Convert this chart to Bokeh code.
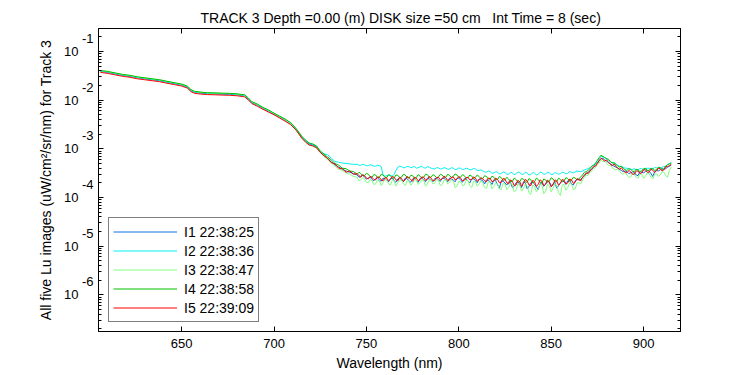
from bokeh.plotting import figure
from bokeh.models import (FixedTicker, LinearAxis, LogAxis, Legend,
                          LegendItem, CustomJSTickFormatter)
from bokeh.embed import file_html
from bokeh.resources import INLINE

# ---------------- data ----------------
wavelength = [606, 610, 614, 618, 622, 626, 630, 634, 638, 642, 646, 650,
              653, 655, 657, 660, 664, 668, 672, 676, 680, 684, 686, 688,
              691, 694, 697, 700, 703, 706, 709, 712, 715, 717, 719, 721, 723,
              725, 727, 729, 731, 733, 735, 737, 739, 741, 743,
              745, 746, 747, 748, 749, 750, 751, 752, 753, 754,
              755, 756, 757, 758, 759, 760, 761, 762, 763, 764,
              765, 766, 767, 768, 769, 770, 771, 772, 773, 774,
              775, 776, 777, 778, 779, 780, 781, 782, 783, 784,
              785, 786, 787, 788, 789, 790, 791, 792, 793, 794,
              795, 796, 797, 798, 799, 800, 801, 802, 803, 804,
              805, 806, 807, 808, 809, 810, 811, 812, 813, 814,
              815, 816, 817, 818, 819, 820, 821, 822, 823, 824,
              825, 826, 827, 828, 829, 830, 831, 832, 833, 834,
              835, 836, 837, 838, 839, 840, 841, 842, 843, 844,
              845, 846, 847, 848, 849, 850, 851, 852, 853, 854,
              855, 856, 857, 858, 859, 860, 861, 862, 863, 864,
              865, 866, 867, 868, 869, 870, 871, 872, 873, 874,
              875, 876, 877, 878, 879, 880, 881, 882, 883, 884,
              885, 886, 887, 888, 889, 890, 891, 892, 893, 894,
              895, 896, 897, 898, 899, 900, 901, 902, 903, 904,
              905, 906, 907, 908, 909, 910, 911, 912, 913, 914, 915]

i1 = [3.89e-2, 3.72e-2, 3.47e-2, 3.24e-2, 3.09e-2, 2.88e-2, 2.75e-2, 2.63e-2, 2.51e-2, 2.34e-2, 2.19e-2, 2.04e-2,
      1.86e-2, 1.58e-2, 1.45e-2, 1.40e-2, 1.36e-2, 1.35e-2, 1.33e-2, 1.32e-2, 1.29e-2, 1.23e-2, 1.07e-2, 8.9e-3,
      7.9e-3, 6.8e-3, 6.0e-3, 5.2e-3, 4.5e-3, 3.9e-3, 3.3e-3, 2.5e-3, 1.74e-3, 1.45e-3, 1.26e-3, 1.20e-3, 1.10e-3,
      8.6e-4, 7.3e-4, 6.3e-4, 5.4e-4, 4.7e-4, 4.2e-4, 3.8e-4, 3.5e-4, 3.3e-4, 3.1e-4,
      2.9e-4, 2.6e-4, 2.75e-4, 2.9e-4, 2.6e-4, 2.4e-4, 2.5e-4, 2.65e-4, 2.35e-4, 2.2e-4,
      2.45e-4, 2.55e-4, 2.3e-4, 2.15e-4, 2.5e-4, 2.4e-4, 2.3e-4, 2.1e-4, 2.45e-4, 2.5e-4,
      2.2e-4, 2.05e-4, 2.4e-4, 2.5e-4, 2.3e-4, 2.1e-4, 2.5e-4, 2.45e-4, 2.2e-4, 2.05e-4,
      2.4e-4, 2.45e-4, 2.25e-4, 2.05e-4, 2.45e-4, 2.5e-4, 2.3e-4, 2.1e-4, 2.5e-4, 2.4e-4,
      2.3e-4, 2.1e-4, 2.45e-4, 2.5e-4, 2.3e-4, 2.15e-4, 2.5e-4, 2.45e-4, 2.35e-4, 2.1e-4,
      2.5e-4, 2.4e-4, 2.3e-4, 2.1e-4, 2.45e-4, 2.5e-4, 2.3e-4, 2.05e-4, 2.45e-4, 2.35e-4,
      2.2e-4, 2.0e-4, 2.4e-4, 2.4e-4, 2.25e-4, 2.0e-4, 2.4e-4, 2.3e-4, 2.2e-4, 1.9e-4,
      2.3e-4, 2.25e-4, 2.1e-4, 1.85e-4, 2.3e-4, 2.2e-4, 1.8e-4, 1.55e-4, 2.2e-4, 2.15e-4,
      2.0e-4, 1.8e-4, 2.1e-4, 2.05e-4, 1.6e-4, 1.7e-4, 2.0e-4, 2.1e-4, 1.85e-4, 1.6e-4,
      2.1e-4, 2.0e-4, 1.5e-4, 1.7e-4, 2.0e-4, 2.05e-4, 1.9e-4, 1.65e-4, 1.45e-4, 1.9e-4,
      2.0e-4, 1.7e-4, 1.85e-4, 2.15e-4, 2.1e-4, 1.75e-4, 1.9e-4, 2.05e-4, 1.55e-4, 1.75e-4,
      2.0e-4, 2.2e-4, 2.1e-4, 1.85e-4, 2.2e-4, 2.25e-4, 1.9e-4, 1.8e-4, 2.2e-4, 2.35e-4,
      2.3e-4, 2.35e-4, 2.6e-4, 2.75e-4, 3.1e-4, 3.3e-4, 3.6e-4, 3.8e-4, 4.2e-4, 4.7e-4,
      5.1e-4, 5.6e-4, 6.3e-4, 6.4e-4, 5.9e-4, 5.6e-4, 5.2e-4, 5.0e-4, 4.6e-4, 4.4e-4,
      4.2e-4, 4.0e-4, 3.8e-4, 3.6e-4, 3.4e-4, 3.5e-4, 3.4e-4, 3.1e-4, 3.2e-4, 3.35e-4,
      3.3e-4, 2.9e-4, 2.8e-4, 3.4e-4, 3.3e-4, 3.2e-4, 3.4e-4, 3.6e-4, 3.5e-4, 3.1e-4,
      2.7e-4, 3.4e-4, 3.6e-4, 3.5e-4, 3.7e-4, 3.9e-4, 3.8e-4, 3.9e-4, 4.2e-4, 4.4e-4, 4.6e-4]

i2 = [3.98e-2, 3.81e-2, 3.55e-2, 3.31e-2, 3.16e-2, 2.95e-2, 2.81e-2, 2.69e-2, 2.57e-2, 2.39e-2, 2.24e-2, 2.09e-2,
      1.90e-2, 1.62e-2, 1.48e-2, 1.43e-2, 1.39e-2, 1.38e-2, 1.36e-2, 1.35e-2, 1.32e-2, 1.26e-2, 1.09e-2, 9.1e-3,
      8.1e-3, 7.0e-3, 6.1e-3, 5.3e-3, 4.6e-3, 4.0e-3, 3.4e-3, 2.55e-3, 1.78e-3, 1.48e-3, 1.29e-3, 1.23e-3, 1.13e-3,
      8.9e-4, 7.9e-4, 7.6e-4, 6.4e-4, 5.5e-4, 5.3e-4, 5.1e-4, 5.0e-4, 4.9e-4, 4.8e-4,
      4.8e-4, 4.6e-4, 4.6e-4, 4.8e-4, 4.7e-4, 4.5e-4, 4.5e-4, 4.7e-4, 4.6e-4, 4.4e-4,
      4.4e-4, 4.6e-4, 4.5e-4, 4.3e-4, 2.9e-4, 2.75e-4, 2.8e-4, 2.9e-4, 2.85e-4, 2.75e-4,
      3.0e-4, 3.6e-4, 4.2e-4, 4.4e-4, 4.3e-4, 4.1e-4, 4.1e-4, 4.35e-4, 4.3e-4, 4.1e-4,
      4.2e-4, 4.35e-4, 4.0e-4, 4.1e-4, 4.25e-4, 4.4e-4, 4.1e-4, 4.0e-4, 4.3e-4, 4.2e-4,
      4.0e-4, 3.9e-4, 3.85e-4, 4.1e-4, 4.05e-4, 3.85e-4, 3.9e-4, 4.1e-4, 4.0e-4, 3.8e-4,
      3.85e-4, 4.1e-4, 4.0e-4, 3.75e-4, 3.8e-4, 4.05e-4, 3.95e-4, 3.75e-4, 3.8e-4, 4.0e-4,
      3.9e-4, 3.7e-4, 3.75e-4, 3.95e-4, 3.85e-4, 3.6e-4, 3.6e-4, 3.7e-4, 3.5e-4, 3.35e-4,
      3.3e-4, 3.5e-4, 3.4e-4, 3.15e-4, 3.2e-4, 3.4e-4, 3.3e-4, 3.05e-4, 3.1e-4, 3.35e-4,
      3.25e-4, 3.0e-4, 3.0e-4, 3.3e-4, 3.2e-4, 2.95e-4, 3.05e-4, 3.35e-4, 3.25e-4, 3.0e-4,
      3.0e-4, 3.3e-4, 3.2e-4, 2.9e-4, 2.95e-4, 3.25e-4, 3.15e-4, 2.9e-4, 3.0e-4, 3.3e-4,
      3.25e-4, 3.0e-4, 3.05e-4, 3.3e-4, 3.2e-4, 2.95e-4, 3.0e-4, 3.25e-4, 3.15e-4, 3.0e-4,
      3.1e-4, 3.3e-4, 3.25e-4, 3.05e-4, 3.15e-4, 3.4e-4, 3.3e-4, 3.2e-4, 3.35e-4, 3.5e-4,
      3.45e-4, 3.4e-4, 3.5e-4, 3.7e-4, 3.8e-4, 3.9e-4, 4.1e-4, 4.4e-4, 4.7e-4, 5.1e-4,
      5.6e-4, 6.3e-4, 7.0e-4, 6.9e-4, 6.6e-4, 6.1e-4, 5.8e-4, 5.5e-4, 5.2e-4, 5.1e-4,
      4.9e-4, 4.6e-4, 4.4e-4, 4.3e-4, 4.2e-4, 4.0e-4, 4.0e-4, 3.9e-4, 3.8e-4, 3.75e-4,
      3.9e-4, 3.7e-4, 3.7e-4, 3.9e-4, 3.9e-4, 3.75e-4, 3.8e-4, 4.0e-4, 4.0e-4, 3.8e-4,
      3.9e-4, 4.1e-4, 4.1e-4, 3.9e-4, 4.0e-4, 4.2e-4, 4.3e-4, 4.4e-4, 4.8e-4, 5.0e-4, 5.2e-4]

i3 = [4.03e-2, 3.85e-2, 3.59e-2, 3.35e-2, 3.20e-2, 2.98e-2, 2.85e-2, 2.72e-2, 2.60e-2, 2.42e-2, 2.27e-2, 2.11e-2,
      1.93e-2, 1.64e-2, 1.50e-2, 1.45e-2, 1.41e-2, 1.40e-2, 1.38e-2, 1.37e-2, 1.33e-2, 1.27e-2, 1.11e-2, 9.2e-3,
      8.2e-3, 7.0e-3, 6.2e-3, 5.3e-3, 4.6e-3, 4.0e-3, 3.3e-3, 2.4e-3, 1.65e-3, 1.38e-3, 1.18e-3, 1.13e-3, 1.04e-3,
      8.4e-4, 7.0e-4, 6.0e-4, 5.1e-4, 4.4e-4, 3.8e-4, 3.6e-4, 3.2e-4, 3.0e-4, 2.7e-4,
      2.6e-4, 2.2e-4, 2.3e-4, 2.55e-4, 2.4e-4, 2.05e-4, 2.0e-4, 2.35e-4, 2.2e-4, 1.85e-4,
      1.9e-4, 2.3e-4, 2.2e-4, 1.75e-4, 2.0e-4, 2.35e-4, 2.3e-4, 1.9e-4, 1.8e-4, 2.25e-4,
      2.2e-4, 1.7e-4, 2.0e-4, 2.3e-4, 2.3e-4, 1.9e-4, 1.75e-4, 2.2e-4, 2.2e-4, 1.8e-4,
      1.95e-4, 2.35e-4, 2.3e-4, 1.85e-4, 2.0e-4, 2.3e-4, 2.25e-4, 1.7e-4, 1.9e-4, 2.3e-4,
      2.3e-4, 1.9e-4, 2.0e-4, 2.35e-4, 2.25e-4, 1.75e-4, 1.85e-4, 2.25e-4, 2.3e-4, 1.9e-4,
      2.05e-4, 2.3e-4, 2.2e-4, 1.6e-4, 1.7e-4, 2.15e-4, 2.1e-4, 1.75e-4, 1.8e-4, 2.25e-4,
      2.2e-4, 1.75e-4, 1.6e-4, 2.15e-4, 2.1e-4, 1.7e-4, 1.9e-4, 2.2e-4, 2.0e-4, 1.6e-4,
      1.55e-4, 2.1e-4, 2.05e-4, 1.5e-4, 1.7e-4, 2.0e-4, 1.9e-4, 1.5e-4, 1.45e-4, 1.95e-4,
      1.9e-4, 1.45e-4, 1.6e-4, 1.95e-4, 1.85e-4, 1.3e-4, 1.4e-4, 1.9e-4, 1.8e-4, 1.35e-4,
      1.55e-4, 1.9e-4, 1.75e-4, 1.25e-4, 1.15e-4, 1.8e-4, 1.7e-4, 1.3e-4, 1.5e-4, 1.9e-4,
      1.8e-4, 1.2e-4, 1.35e-4, 1.85e-4, 1.75e-4, 1.3e-4, 1.55e-4, 1.9e-4, 1.8e-4, 1.25e-4,
      1.1e-4, 1.8e-4, 1.85e-4, 1.4e-4, 1.6e-4, 2.0e-4, 1.9e-4, 1.45e-4, 1.5e-4, 2.0e-4,
      2.0e-4, 1.9e-4, 2.3e-4, 2.6e-4, 2.9e-4, 2.8e-4, 3.3e-4, 3.5e-4, 3.9e-4, 4.1e-4,
      4.8e-4, 5.1e-4, 6.0e-4, 5.4e-4, 5.6e-4, 5.0e-4, 4.6e-4, 4.5e-4, 4.2e-4, 3.8e-4,
      3.7e-4, 3.9e-4, 3.5e-4, 3.1e-4, 3.0e-4, 3.3e-4, 2.9e-4, 2.6e-4, 2.6e-4, 3.1e-4,
      3.0e-4, 2.6e-4, 2.5e-4, 3.0e-4, 3.0e-4, 2.5e-4, 2.7e-4, 3.2e-4, 3.1e-4, 2.6e-4,
      2.4e-4, 3.0e-4, 3.1e-4, 2.7e-4, 2.9e-4, 3.4e-4, 3.3e-4, 2.8e-4, 2.6e-4, 3.6e-4, 4.2e-4]

i4 = [4.07e-2, 3.90e-2, 3.63e-2, 3.39e-2, 3.24e-2, 3.02e-2, 2.88e-2, 2.75e-2, 2.63e-2, 2.45e-2, 2.29e-2, 2.14e-2,
      1.95e-2, 1.66e-2, 1.52e-2, 1.47e-2, 1.42e-2, 1.41e-2, 1.39e-2, 1.38e-2, 1.35e-2, 1.29e-2, 1.12e-2, 9.3e-3,
      8.3e-3, 7.1e-3, 6.3e-3, 5.4e-3, 4.7e-3, 4.1e-3, 3.45e-3, 2.6e-3, 1.82e-3, 1.52e-3, 1.32e-3, 1.26e-3, 1.15e-3,
      9.0e-4, 7.8e-4, 6.8e-4, 5.9e-4, 5.0e-4, 4.6e-4, 4.0e-4, 3.9e-4, 3.5e-4, 3.4e-4,
      3.0e-4, 3.3e-4, 3.1e-4, 2.8e-4, 2.8e-4, 3.15e-4, 3.0e-4, 2.7e-4, 2.6e-4, 2.95e-4,
      2.9e-4, 2.55e-4, 2.6e-4, 3.0e-4, 2.9e-4, 2.6e-4, 2.55e-4, 2.95e-4, 2.8e-4, 2.5e-4,
      2.5e-4, 2.9e-4, 2.85e-4, 2.55e-4, 2.6e-4, 3.0e-4, 2.9e-4, 2.6e-4, 2.5e-4, 2.85e-4,
      2.8e-4, 2.5e-4, 2.55e-4, 2.95e-4, 2.75e-4, 2.5e-4, 2.6e-4, 3.0e-4, 2.95e-4, 2.6e-4,
      2.6e-4, 2.95e-4, 2.8e-4, 2.55e-4, 2.65e-4, 3.0e-4, 2.9e-4, 2.6e-4, 2.6e-4, 3.0e-4,
      2.85e-4, 2.55e-4, 2.7e-4, 3.05e-4, 2.9e-4, 2.6e-4, 2.6e-4, 2.95e-4, 2.8e-4, 2.5e-4,
      2.55e-4, 2.9e-4, 2.75e-4, 2.45e-4, 2.6e-4, 2.9e-4, 2.7e-4, 2.45e-4, 2.45e-4, 2.8e-4,
      2.7e-4, 2.4e-4, 2.4e-4, 2.75e-4, 2.6e-4, 2.3e-4, 2.35e-4, 2.7e-4, 2.55e-4, 2.25e-4,
      2.3e-4, 2.6e-4, 2.4e-4, 2.1e-4, 2.15e-4, 2.5e-4, 2.35e-4, 2.05e-4, 2.1e-4, 2.45e-4,
      2.4e-4, 2.1e-4, 2.05e-4, 2.45e-4, 2.3e-4, 2.0e-4, 2.1e-4, 2.5e-4, 2.35e-4, 2.05e-4,
      2.0e-4, 2.4e-4, 2.3e-4, 2.05e-4, 2.15e-4, 2.55e-4, 2.4e-4, 2.1e-4, 2.1e-4, 2.5e-4,
      2.35e-4, 2.1e-4, 2.2e-4, 2.55e-4, 2.45e-4, 2.15e-4, 2.3e-4, 2.6e-4, 2.5e-4, 2.3e-4,
      2.4e-4, 2.65e-4, 2.9e-4, 3.3e-4, 3.4e-4, 3.6e-4, 3.9e-4, 4.4e-4, 4.6e-4, 5.0e-4,
      5.8e-4, 6.6e-4, 7.4e-4, 7.0e-4, 6.6e-4, 6.3e-4, 6.1e-4, 5.5e-4, 5.1e-4, 5.2e-4,
      4.8e-4, 4.4e-4, 4.2e-4, 4.4e-4, 4.0e-4, 3.7e-4, 3.6e-4, 3.9e-4, 3.8e-4, 3.5e-4,
      3.4e-4, 3.8e-4, 3.7e-4, 3.4e-4, 3.5e-4, 3.9e-4, 4.0e-4, 3.6e-4, 3.6e-4, 4.0e-4,
      3.9e-4, 3.6e-4, 3.7e-4, 4.2e-4, 4.1e-4, 3.8e-4, 3.8e-4, 4.4e-4, 4.7e-4, 4.9e-4, 5.0e-4]

i5 = [3.72e-2, 3.55e-2, 3.31e-2, 3.09e-2, 2.95e-2, 2.75e-2, 2.63e-2, 2.51e-2, 2.40e-2, 2.23e-2, 2.09e-2, 1.95e-2,
      1.78e-2, 1.50e-2, 1.38e-2, 1.34e-2, 1.30e-2, 1.29e-2, 1.27e-2, 1.26e-2, 1.23e-2, 1.17e-2, 1.02e-2, 8.5e-3,
      7.5e-3, 6.5e-3, 5.7e-3, 5.0e-3, 4.3e-3, 3.7e-3, 3.15e-3, 2.4e-3, 1.66e-3, 1.38e-3, 1.20e-3, 1.15e-3, 1.05e-3,
      8.5e-4, 7.2e-4, 6.4e-4, 5.2e-4, 4.9e-4, 4.0e-4, 3.9e-4, 3.3e-4, 3.5e-4, 3.0e-4,
      3.1e-4, 2.8e-4, 2.6e-4, 2.95e-4, 2.8e-4, 2.5e-4, 2.4e-4, 2.7e-4, 2.6e-4, 2.35e-4,
      2.3e-4, 2.65e-4, 2.6e-4, 2.3e-4, 2.2e-4, 2.55e-4, 2.5e-4, 2.2e-4, 2.35e-4, 2.7e-4,
      2.6e-4, 2.3e-4, 2.2e-4, 2.6e-4, 2.45e-4, 2.15e-4, 2.3e-4, 2.7e-4, 2.55e-4, 2.35e-4,
      2.15e-4, 2.6e-4, 2.5e-4, 2.2e-4, 2.3e-4, 2.65e-4, 2.6e-4, 2.25e-4, 2.35e-4, 2.7e-4,
      2.5e-4, 2.2e-4, 2.25e-4, 2.55e-4, 2.6e-4, 2.3e-4, 2.4e-4, 2.75e-4, 2.55e-4, 2.25e-4,
      2.3e-4, 2.6e-4, 2.65e-4, 2.3e-4, 2.4e-4, 2.7e-4, 2.5e-4, 2.2e-4, 2.25e-4, 2.55e-4,
      2.6e-4, 2.3e-4, 2.35e-4, 2.65e-4, 2.5e-4, 2.15e-4, 2.3e-4, 2.55e-4, 2.4e-4, 2.2e-4,
      2.1e-4, 2.5e-4, 2.45e-4, 2.1e-4, 2.2e-4, 2.5e-4, 2.35e-4, 2.0e-4, 2.05e-4, 2.45e-4,
      2.4e-4, 2.0e-4, 1.9e-4, 2.3e-4, 2.15e-4, 1.75e-4, 1.8e-4, 2.25e-4, 2.1e-4, 1.7e-4,
      1.95e-4, 2.35e-4, 2.2e-4, 1.8e-4, 1.75e-4, 2.25e-4, 2.1e-4, 1.7e-4, 1.85e-4, 2.3e-4,
      2.15e-4, 1.75e-4, 1.9e-4, 2.3e-4, 2.05e-4, 1.65e-4, 1.8e-4, 2.3e-4, 2.2e-4, 1.8e-4,
      1.95e-4, 2.35e-4, 2.25e-4, 1.9e-4, 2.0e-4, 2.4e-4, 2.3e-4, 1.95e-4, 2.05e-4, 2.45e-4,
      2.3e-4, 2.2e-4, 2.6e-4, 2.9e-4, 3.2e-4, 3.1e-4, 3.5e-4, 3.9e-4, 4.3e-4, 4.4e-4,
      5.0e-4, 5.8e-4, 6.4e-4, 6.0e-4, 5.6e-4, 5.9e-4, 5.3e-4, 4.8e-4, 4.5e-4, 4.9e-4,
      4.4e-4, 4.0e-4, 3.8e-4, 4.1e-4, 3.6e-4, 3.3e-4, 3.2e-4, 3.6e-4, 3.4e-4, 3.0e-4,
      3.0e-4, 3.5e-4, 3.5e-4, 3.1e-4, 3.2e-4, 3.7e-4, 3.7e-4, 3.3e-4, 3.3e-4, 3.8e-4,
      3.6e-4, 3.3e-4, 3.5e-4, 4.0e-4, 3.9e-4, 3.5e-4, 3.7e-4, 4.3e-4, 4.3e-4, 4.5e-4, 4.8e-4]

series_values = [i1, i2, i3, i4, i5]
series_labels = ["I1 22:38:25", "I2 22:38:36", "I3 22:38:47", "I4 22:38:58", "I5 22:39:09"]
series_colors = ["#0a6fe0", "#00f0f0", "#80ff80", "#00c000", "#ff0000"]

x_ticks = [650, 700, 750, 800, 850, 900]
y_tick_exponents = [-6, -5, -4, -3, -2, -1]

# the three spaces before "Int" are kept with no-break spaces
title_text = "TRACK 3 Depth =0.00 (m) DISK size =50 cm \u00a0 Int Time = 8 (sec)"
x_label = "Wavelength (nm)"
y_label = "All five Lu images (uW/cm\u00b2/sr/nm) for Track 3"

for s in series_values:
    assert len(s) == len(wavelength), (len(s), len(wavelength))

# ---------------- figure ----------------
FONT = "Liberation Sans"
X0, X1 = 605, 920
Y0, Y1 = 1.76e-7, 0.297
EXP_RAISE = 0.267   # exponent labels sit ~13 px above their decade tick

p = figure(width=750, height=375, x_range=(X0, X1), y_range=(Y0, Y1),
           y_axis_type="log", output_backend="svg", toolbar_location=None,
           title=title_text,
           min_border_left=98, min_border_right=70, min_border_top=28,
           min_border_bottom=44)
p.background_fill_color = "white"
p.border_fill_color = "white"
p.outline_line_color = "black"
p.outline_line_width = 1
p.xgrid.grid_line_color = None
p.ygrid.grid_line_color = None

p.title.align = "left"
p.title.offset = 102
p.title.standoff = 5
p.title.text_font = FONT
p.title.text_font_size = "14px"
p.title.text_font_style = "normal"
p.title.text_color = "black"

major_y = [10.0 ** e for e in y_tick_exponents]
minor_y = [m * 10.0 ** e for e in range(-7, 0) for m in range(2, 10)]
blank = CustomJSTickFormatter(code="return ''")


def style_axis(ax):
    ax.axis_line_color = "black"
    ax.major_tick_line_color = "black"
    ax.minor_tick_line_color = "black"
    ax.major_tick_in = 5
    ax.major_tick_out = 0
    ax.minor_tick_in = 3
    ax.minor_tick_out = 0


def label_only_axis(ax, standoff):
    ax.axis_line_color = None
    ax.major_tick_line_color = None
    ax.minor_tick_line_color = None
    ax.major_tick_in = 0
    ax.major_tick_out = 0
    ax.minor_tick_in = 0
    ax.minor_tick_out = 0
    ax.major_label_standoff = standoff
    ax.major_label_text_font = FONT
    ax.major_label_text_font_size = "13px"
    ax.major_label_text_color = "black"


# bottom x axis
xa = p.xaxis[0]
xa.ticker = FixedTicker(ticks=x_ticks)
style_axis(xa)
xa.minor_tick_line_color = None
xa.major_label_text_font = FONT
xa.major_label_text_font_size = "13px"
xa.major_label_text_color = "black"
xa.major_label_standoff = 7
xa.axis_label = x_label
xa.axis_label_text_font = FONT
xa.axis_label_text_font_size = "14px"
xa.axis_label_text_font_style = "normal"
xa.axis_label_text_color = "black"
xa.axis_label_standoff = 4

# left y axis: tick marks only
ya = p.yaxis[0]
ya.ticker = FixedTicker(ticks=major_y, minor_ticks=minor_y)
ya.formatter = blank
ya.major_label_standoff = 0
style_axis(ya)

# exponent labels ("-1", "-2", ...) raised above each decade
exp_axis = LogAxis(
    ticker=FixedTicker(ticks=[10.0 ** (e + EXP_RAISE) for e in y_tick_exponents]),
    formatter=CustomJSTickFormatter(args=dict(labels=[str(e) for e in y_tick_exponents]),
                                    code="return labels[index]"))
label_only_axis(exp_axis, 5)
p.add_layout(exp_axis, "left")

# base "10" labels at each decade, plus the y axis title
base_axis = LogAxis(ticker=FixedTicker(ticks=major_y),
                    formatter=CustomJSTickFormatter(code="return '10'"))
label_only_axis(base_axis, 0)
base_axis.axis_label = y_label
base_axis.axis_label_text_font = FONT
base_axis.axis_label_text_font_size = "14px"
base_axis.axis_label_text_font_style = "normal"
base_axis.axis_label_text_color = "black"
base_axis.axis_label_standoff = 7
p.add_layout(base_axis, "left")

# mirrored top / right axes
top = LinearAxis(ticker=FixedTicker(ticks=x_ticks), formatter=blank)
style_axis(top)
top.minor_tick_line_color = None
top.major_label_standoff = 0
p.add_layout(top, "above")
right = LogAxis(ticker=FixedTicker(ticks=major_y, minor_ticks=minor_y), formatter=blank)
style_axis(right)
right.major_label_standoff = 0
p.add_layout(right, "right")

# spectra
items = []
for vals, lab, col in zip(series_values, series_labels, series_colors):
    r = p.line(wavelength, vals, line_color=col, line_width=1)
    items.append(LegendItem(label=lab, renderers=[r]))

legend = Legend(items=items, location=(10, 9), padding=4, spacing=0,
                glyph_width=64, glyph_height=19, label_height=19,
                label_standoff=7, label_text_font=FONT,
                label_text_font_size="14px", label_text_color="black",
                border_line_color="black", border_line_width=1,
                background_fill_color="white", background_fill_alpha=1.0,
                margin=0)
p.add_layout(legend)

open("out.html", "w").write(file_html(p, INLINE))
